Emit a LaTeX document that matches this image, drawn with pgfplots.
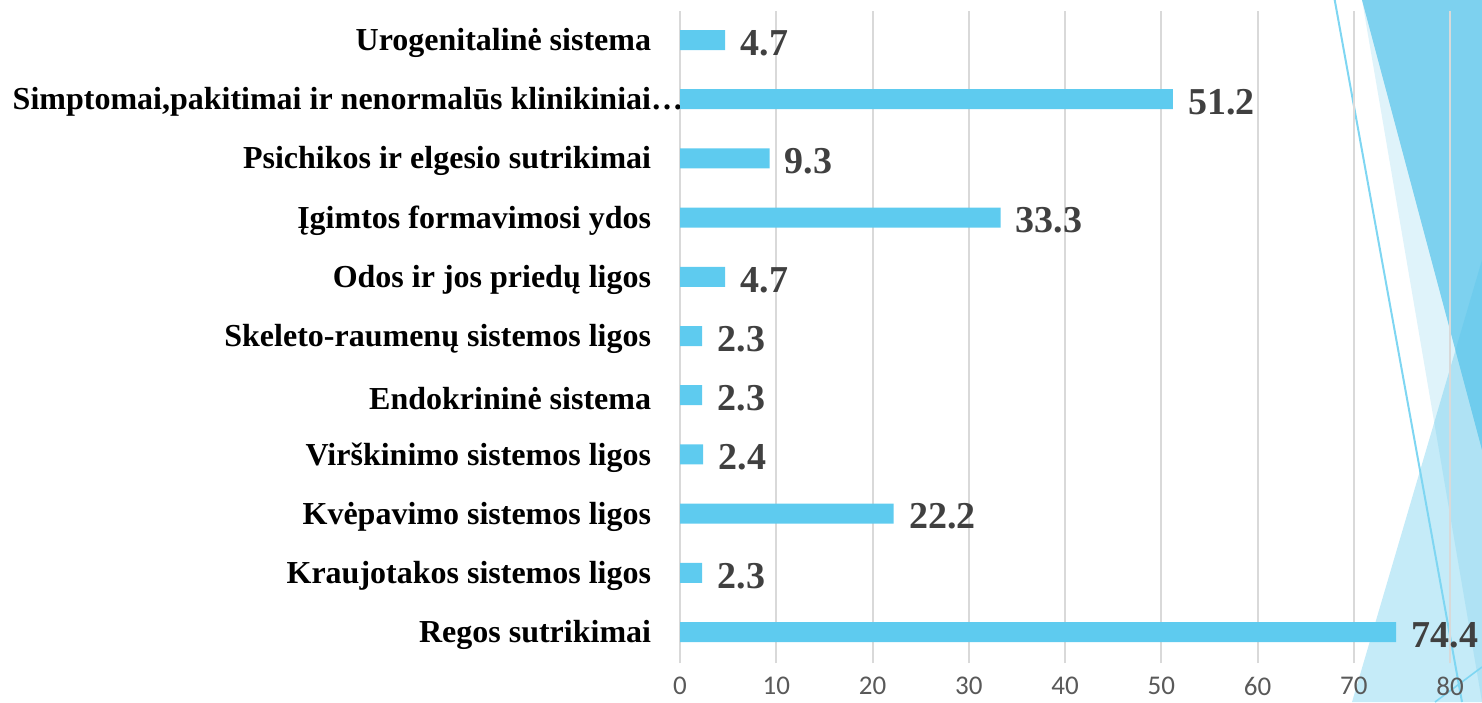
\documentclass[border=0pt]{standalone}
\usepackage{fontspec}
\setmainfont{Liberation Serif}
\newfontfamily\carlito{Carlito}
\usepackage{pgfplots}
\pgfplotsset{compat=1.18}

\definecolor{barblue}{HTML}{5ECBEF}
\definecolor{gridgray}{HTML}{D9D9D9}
\definecolor{tickgray}{HTML}{595959}
\definecolor{valgray}{HTML}{404040}
\definecolor{decopale}{HTML}{DFF3FA}
\definecolor{decodark}{HTML}{7DD1EF}
\definecolor{decomid}{HTML}{54C4EA}
\definecolor{decoline}{HTML}{7FD6F2}

\begin{document}
\begin{tikzpicture}
% slide decoration, in pixel units of the reference (y downwards)
\begin{scope}[x=0.5pt,y=-0.5pt]
\path[use as bounding box] (0,0) rectangle (1482,702);
\clip (0,0) rectangle (1482,702);
\fill[decopale] (1362,0) -- (1482,702) -- (1482,0) -- cycle;
\fill[decodark] (1362,0) -- (1482,450) -- (1482,0) -- cycle;
\fill[decomid, opacity=0.34] (1352,702) -- (1482,260) -- (1482,702) -- cycle;
\draw[decoline, line width=1pt] (1334.7,0) -- (1462,702);
\draw[decoline, line width=0.8pt] (1435,702) -- (1482,667);
\end{scope}

\begin{axis}[
  at={(340pt,-331.5pt)}, anchor=south west,
  scale only axis, width=385pt, height=326pt,
  xbar, bar width=10pt, bar shift=0pt,
  xmin=0, xmax=80, ymin=-0.5236, ymax=10.49,
  clip=false,
  axis line style={draw=none}, major tick style={draw=none},
  xmajorgrids, grid style={draw=gridgray, line width=1pt},
  xtick={0,10,...,80},
  ytick={0,...,10},
  yticklabels={Regos sutrikimai, Kraujotakos sistemos ligos, Kvėpavimo sistemos ligos,
    Virškinimo sistemos ligos, Endokrininė sistema, Skeleto-raumenų sistemos ligos,
    Odos ir jos priedų ligos, Įgimtos formavimosi ydos, Psichikos ir elgesio sutrikimai,
    {Simptomai,pakitimai ir nenormalūs klinikiniai\rlap{…}}, Urogenitalinė sistema},
  /pgf/number format/assume math mode=true,
  yticklabel style={font=\bfseries\fontsize{16}{16}\selectfont, inner sep=0pt, xshift=-10pt, yshift=-1.5pt, anchor=east},
  xticklabel style={font=\carlito\fontsize{13.5}{13}\selectfont, text=tickgray, inner sep=0pt, anchor=north, yshift=-7pt},
  nodes near coords,
  every node near coord/.append style={font=\bfseries\fontsize{19}{19}\selectfont, text=valgray, inner sep=0pt, anchor=west, xshift=7.5pt, yshift=-1.5pt},
]
\addplot[fill=barblue, draw=none] coordinates {
  (74.4,0) (2.3,1) (22.2,2) (2.4,3) (2.3,4) (2.3,5)
  (4.7,6) (33.3,7) (9.3,8) (51.2,9) (4.7,10)
};
\end{axis}
\end{tikzpicture}
\end{document}
